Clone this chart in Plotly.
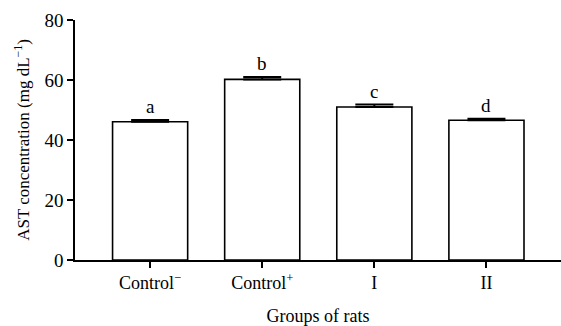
import plotly.graph_objects as go

groups = ["Control<sup>−</sup>", "Control<sup>+</sup>", "I", "II"]
values = [46.1, 60.2, 51.0, 46.6]
errors = [0.6, 0.8, 0.8, 0.5]
letters = ["a", "b", "c", "d"]
y_ticks = [0, 20, 40, 60, 80]

font = "Liberation Serif, Times New Roman, serif"
x = list(range(len(groups)))

fig = go.Figure()
fig.add_trace(go.Bar(
    x=x, y=values, width=0.67,
    marker=dict(color="white", line=dict(color="black", width=1.6)),
    error_y=dict(type="data", array=errors, arrayminus=[0] * len(errors),
                 symmetric=False, visible=True, color="black",
                 thickness=2, width=19),
))
for xi, v, e, lab in zip(x, values, errors, letters):
    fig.add_annotation(x=xi, y=v + e, text=lab, showarrow=False,
                       yanchor="bottom", yshift=1,
                       font=dict(family=font, size=19, color="black"))

fig.update_layout(
    width=561, height=326,
    margin=dict(l=75, r=0, t=20, b=66),
    plot_bgcolor="white", paper_bgcolor="white",
    showlegend=False,
    font=dict(family=font, size=18, color="black"),
    bargap=0.33,
)
fig.update_xaxes(
    range=[-0.67, 3.665], tickmode="array", tickvals=x, ticktext=groups,
    showline=True, linecolor="black", linewidth=1.6,
    ticks="outside", ticklen=6, tickwidth=1.6, tickcolor="black",
    showgrid=False, zeroline=False,
    title=dict(text="Groups of rats", standoff=18, font=dict(size=18)),
    tickfont=dict(size=18),
)
fig.update_yaxes(
    range=[0, 80], tickmode="array", tickvals=y_ticks,
    showline=True, linecolor="black", linewidth=1.6,
    ticks="outside", ticklen=6, tickwidth=1.6, tickcolor="black",
    showgrid=False, zeroline=False,
    title=dict(text="AST concentration (mg dL<sup>−1</sup>)", standoff=10, font=dict(size=17)),
    tickfont=dict(size=19),
)
fig.write_html("out.html")
